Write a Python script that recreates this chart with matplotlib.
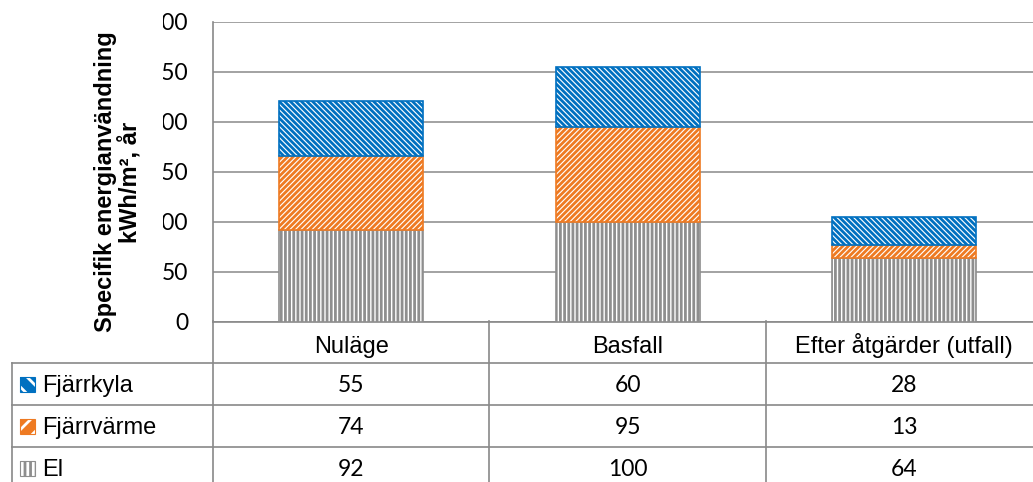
import matplotlib
matplotlib.use("Agg")
import matplotlib.pyplot as plt
from matplotlib.patches import Rectangle
from matplotlib.transforms import Bbox, TransformedBbox
import numpy as np

# Data
categories = ["Nuläge", "Basfall", "Efter åtgärder (utfall)"]
series_names = ["Fjärrkyla", "Fjärrvärme", "El"]          # table order (top to bottom)
el = [92, 100, 64]
fjarrvarme = [74, 95, 13]
fjarrkyla = [55, 60, 28]
yticks = [0, 50, 100, 150, 200, 250, 300]

W, H = 1033, 482
plt.rcParams["hatch.linewidth"] = 2.0

fig = plt.figure(figsize=(W / 100, H / 100), dpi=100)

def fx(px):
    return px / W

def fy(py):
    return 1 - py / H

GRID = "#898989"
BLUE = "#0070C0"
ORANGE = "#EE7A22"
GRAY = "#8E8E8E"

# Main bar axes (extends slightly past the right edge of the canvas)
x_left, x_right = 213, 1042.5
y_top, y_bot = 22, 322
ax = fig.add_axes([fx(x_left), fy(y_bot), (x_right - x_left) / W, (y_bot - y_top) / H])
x = np.arange(len(categories))
width = 0.52

styles = [
    (el, GRAY, "||||"),
    (fjarrvarme, ORANGE, "/" * 6),
    (fjarrkyla, BLUE, "\\" * 6),
]
bottom = np.zeros(len(categories))
for vals, col, hatch in styles:
    ax.bar(x, vals, width, bottom=bottom, facecolor="white", edgecolor=col,
           hatch=hatch, linewidth=1.2, zorder=3)
    bottom += np.array(vals)

ax.set_xlim(-0.5, 2.5)
ax.set_ylim(0, 300)
ax.set_yticks(yticks)
ax.set_yticklabels([str(v) for v in yticks], family="Lato", fontsize=16.5)
ax.set_xticks([])
ax.tick_params(axis="y", length=0, pad=18)
ax.grid(axis="y", color=GRID, linewidth=1.1, zorder=0)
for s in ["top", "right"]:
    ax.spines[s].set_visible(False)
for s in ["left", "bottom"]:
    ax.spines[s].set_color(GRID)
    ax.spines[s].set_linewidth(1.2)

# Tick labels are cut off at their left side
clip = TransformedBbox(Bbox([[fx(163), 0], [fx(212), 1]]), fig.transFigure)
for lab in ax.get_yticklabels():
    lab.set_clip_on(True)
    lab.set_clip_box(clip)

fig.text(fx(118), fy(182), "Specifik energianvändning\nkWh/m², år",
         rotation=90, ha="center", va="center", multialignment="center",
         family="Liberation Sans", fontweight="bold", fontsize=17, linespacing=1.05)

# Data table below the bars
t_left, t_top, row_h = 12, 321, 42
n_rows = 1 + len(series_names)
unit = (x_right - x_left) / 3.0
tax = fig.add_axes([fx(t_left), fy(t_top + n_rows * row_h), (x_right - t_left) / W, n_rows * row_h / H])
tax.set_xlim(-0.5 - (x_left - t_left) / unit, 2.5)
tax.set_ylim(n_rows, 0)
tax.axis("off")
x0 = tax.get_xlim()[0]

lkw = dict(color=GRID, linewidth=1.2, clip_on=False)
for r in range(1, n_rows + 1):
    tax.plot([x0, 2.5], [r, r], **lkw)
tax.plot([x0, x0], [1, n_rows], **lkw)
for xv in [-0.5, 0.5, 1.5, 2.5]:
    tax.plot([xv, xv], [0, n_rows], **lkw)

for i, c in enumerate(categories):
    tax.text(i, 0.76, c, ha="center", va="baseline", family="Liberation Sans", fontsize=17)

table_vals = [fjarrkyla, fjarrvarme, el]
for r, (name, vals) in enumerate(zip(series_names, table_vals), start=1):
    for i, v in enumerate(vals):
        tax.text(i, r + 0.69, str(v), ha="center", va="baseline", family="Lato", fontsize=16.5)
    tax.text(x0 + (42 - t_left) / unit, r + 0.69, name, ha="left", va="baseline",
             family="Liberation Sans", fontsize=17)

# Legend keys in the row headers
icon = [(BLUE, "white", "\\\\"), (ORANGE, "white", "//"), ("white", GRAY, "|||")]
for r, (fc, hc, hatch) in enumerate(icon):
    cy = t_top + row_h * (r + 1) + row_h / 2
    fig.add_artist(Rectangle((fx(20), fy(cy + 7.5)), 15 / W, 15 / H, transform=fig.transFigure,
                             facecolor=fc, edgecolor=hc, hatch=hatch, linewidth=0))
    fig.add_artist(Rectangle((fx(20), fy(cy + 7.5)), 15 / W, 15 / H, transform=fig.transFigure,
                             facecolor="none", edgecolor=fc if fc != "white" else GRAY, linewidth=0.8))

fig.savefig("out.png", dpi=100)
